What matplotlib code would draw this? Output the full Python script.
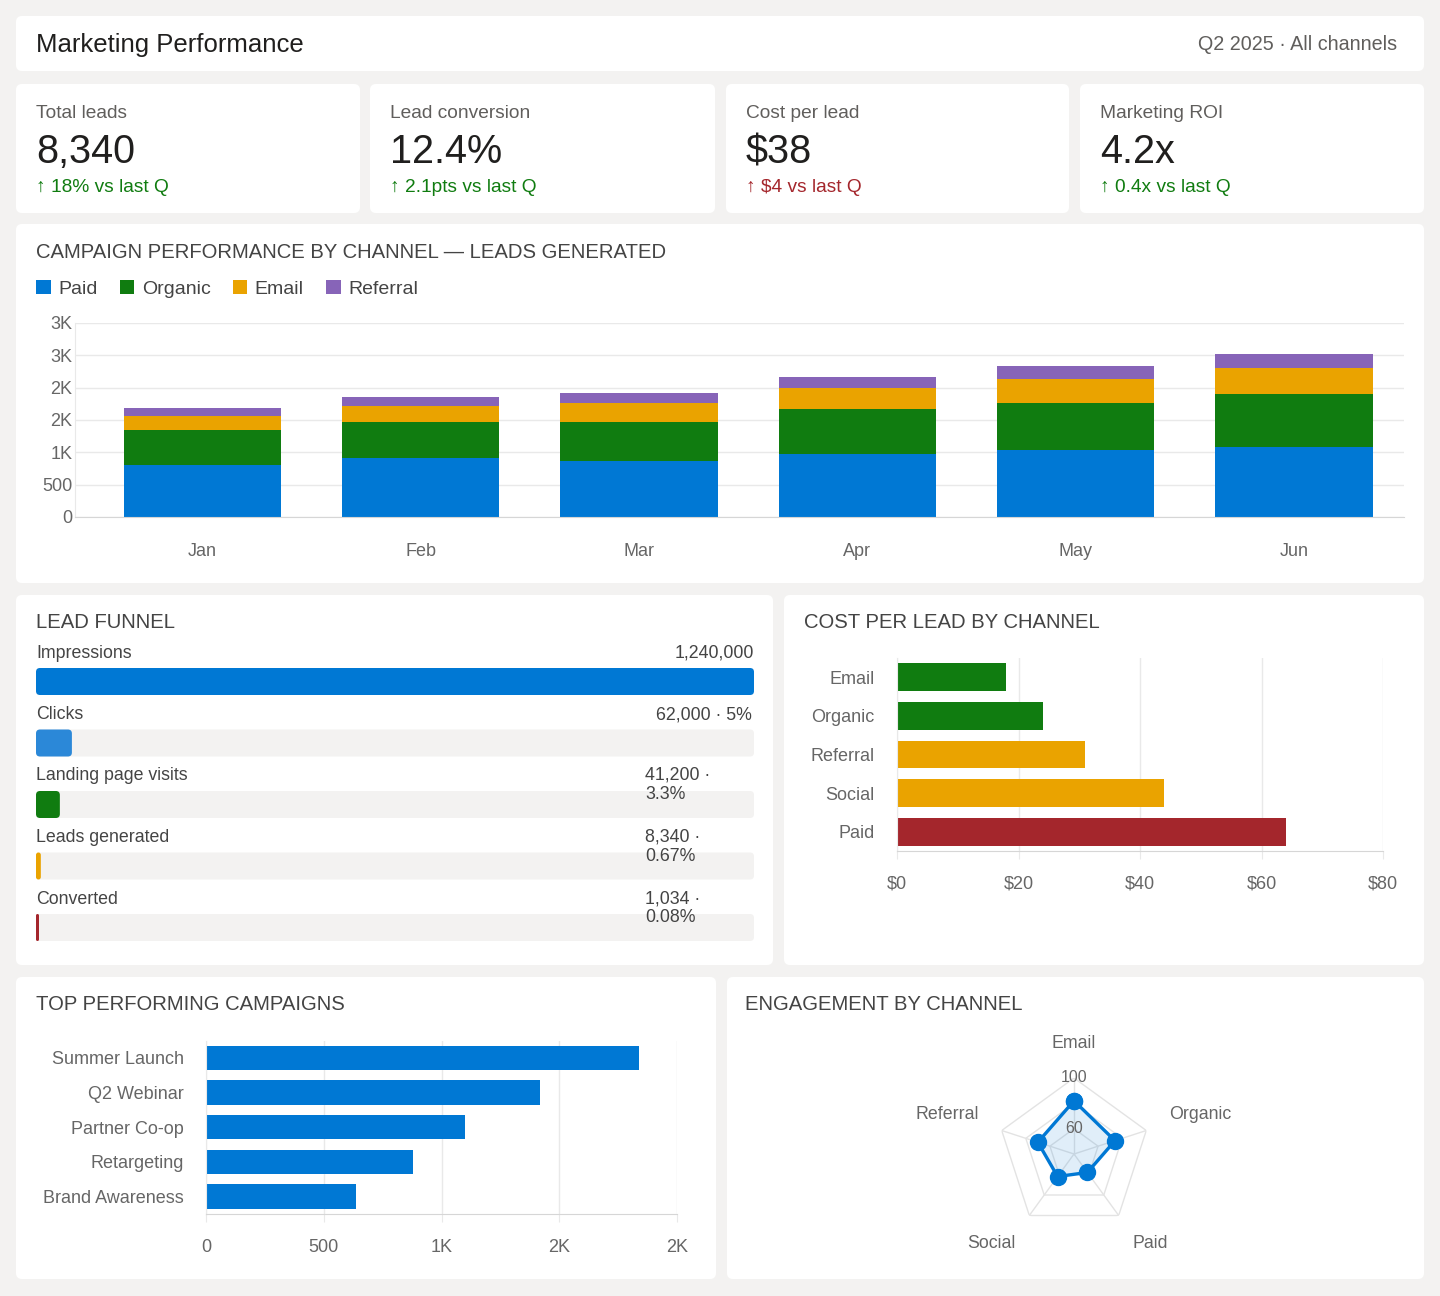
import numpy as np
import matplotlib
matplotlib.use("Agg")
import matplotlib.pyplot as plt
from matplotlib.patches import FancyBboxPatch
from matplotlib.ticker import FuncFormatter

plt.rcParams['font.family'] = ['Liberation Sans', 'DejaVu Sans']

# ---------------- data ----------------
header_title = "Marketing Performance"
header_sub = "Q2 2025 \u00b7 All channels"

kpi_labels = ["Total leads", "Lead conversion", "Cost per lead", "Marketing ROI"]
kpi_values = ["8,340", "12.4%", "$38", "4.2x"]
kpi_deltas = ["\u2191 18% vs last Q", "\u2191 2.1pts vs last Q", "\u2191 $4 vs last Q", "\u2191 0.4x vs last Q"]
kpi_good = [True, True, False, True]

months = ["Jan", "Feb", "Mar", "Apr", "May", "Jun"]
channel_names = ["Paid", "Organic", "Email", "Referral"]
paid_leads = [810, 905, 865, 970, 1030, 1090]
organic_leads = [535, 570, 610, 700, 740, 810]
email_leads = [220, 245, 285, 320, 365, 400]
referral_leads = [120, 140, 155, 170, 200, 220]

funnel_stages = ["Impressions", "Clicks", "Landing page visits", "Leads generated", "Converted"]
funnel_values = [1240000, 62000, 41200, 8340, 1034]
funnel_pcts = [None, "5%", "3.3%", "0.67%", "0.08%"]

cpl_channels = ["Email", "Organic", "Referral", "Social", "Paid"]
cpl_values = [18, 24, 31, 44, 64]

campaigns = ["Summer Launch", "Q2 Webinar", "Partner Co-op", "Retargeting", "Brand Awareness"]
campaign_leads = [1840, 1420, 1100, 880, 635]

eng_channels = ["Email", "Organic", "Paid", "Social", "Referral"]
eng_scores = [82, 74, 58, 62, 70]
eng_ticks = [60, 80, 100]
eng_range = (40, 100)

# ---------------- style ----------------
BLUE = '#0078D4'
LBLUE = '#2B88D8'
GREEN = '#107C10'
ORANGE = '#EAA300'
PURPLE = '#8764B8'
RED = '#A4262C'
BG = '#F3F2F1'
DARK = '#201F1E'
MID = '#605E5C'
TICK = '#666666'
GRID = '#E9E9E9'
AXL = '#D6D6D6'
TXT = '#444444'

channel_colors = [BLUE, GREEN, ORANGE, PURPLE]
funnel_colors = [BLUE, LBLUE, GREEN, ORANGE, RED]
cpl_colors = [GREEN, GREEN, ORANGE, ORANGE, RED]

W, H = 1440, 1296
DY = 2  # small baseline correction for html-like text centering
fig = plt.figure(figsize=(W / 100, H / 100), dpi=100)
fig.patch.set_facecolor(BG)

bg = fig.add_axes([0, 0, 1, 1])
bg.set_xlim(0, W)
bg.set_ylim(H, 0)
bg.axis('off')
bg.set_zorder(-10)


def add_ax(x0, y0, x1, y1, **kw):
    return fig.add_axes([x0 / W, 1 - y1 / H, (x1 - x0) / W, (y1 - y0) / H], **kw)


def card(x0, y0, x1, y1):
    bg.add_patch(FancyBboxPatch((x0, y0), x1 - x0, y1 - y0,
                                boxstyle="round,pad=0,rounding_size=6",
                                fc='white', ec='none'))


def kfmt(v, pos=None):
    if v >= 1000:
        return f"{int(v / 1000 + 0.5)}K"
    return f"{v:.0f}"


TITLE_FS = 14.6
TICK_FS = 13

# ---------------- header ----------------
card(16, 16, 1424, 71)
bg.text(36, 43 + DY, header_title, fontsize=18.5, color=DARK, va='center', ha='left')
bg.text(1397, 43 + DY, header_sub, fontsize=14.2, color=MID, va='center', ha='right')

# ---------------- KPI cards ----------------
kpi_boxes = [(16, 360), (370, 715), (726, 1069), (1080, 1424)]
for (x0, x1), lab, val, dl, good in zip(kpi_boxes, kpi_labels, kpi_values, kpi_deltas, kpi_good):
    card(x0, 84, x1, 213)
    bg.text(x0 + 20, 111 + DY, lab, fontsize=13.8, color=MID, va='center')
    bg.text(x0 + 20, 150 + DY, val, fontsize=28.5, color=DARK, va='center')
    bg.text(x0 + 20, 186 + DY, dl, fontsize=13.8, color=GREEN if good else RED, va='center')

# ---------------- stacked bar: leads by channel ----------------
card(16, 224, 1424, 583)
bg.text(36, 251 + DY, "CAMPAIGN PERFORMANCE BY CHANNEL \u2014 LEADS GENERATED",
        fontsize=TITLE_FS, color=TXT, va='center')

ax = add_ax(75, 323, 1404, 517)
x = np.arange(len(months))
series = [paid_leads, organic_leads, email_leads, referral_leads]
bottom = np.zeros(len(months))
handles = []
for name, vals, col in zip(channel_names, series, channel_colors):
    b = ax.bar(x, vals, 0.72, bottom=bottom, color=col, label=name, linewidth=0)
    handles.append(b)
    bottom += np.array(vals)
ax.set_xlim(-0.584, 5.504)
ax.set_ylim(0, 3000)
ax.set_yticks(np.arange(0, 3001, 500))
ax.yaxis.set_major_formatter(FuncFormatter(kfmt))
ax.set_xticks(x)
ax.set_xticklabels(months)
ax.grid(axis='y', color=GRID, lw=1)
ax.set_axisbelow(True)
for s in ['top', 'right']:
    ax.spines[s].set_visible(False)
ax.spines['left'].set_color(GRID)
ax.spines['bottom'].set_color(AXL)
ax.tick_params(axis='both', length=0, labelsize=TICK_FS, labelcolor=TICK)
ax.tick_params(axis='x', pad=19)
ax.tick_params(axis='y', pad=2)
ax.patch.set_alpha(0)

fig.legend(handles=handles, labels=channel_names, loc='center left',
           bbox_to_anchor=(36 / W, 1 - (287 + DY) / H), ncol=4, frameon=False,
           fontsize=14, handlelength=0.75, handleheight=0.75, handletextpad=0.38,
           columnspacing=1.15, borderpad=0, borderaxespad=0, labelcolor=TXT)

# ---------------- lead funnel ----------------
card(16, 595, 773, 965)
bg.text(36, 621 + DY, "LEAD FUNNEL", fontsize=TITLE_FS, color=TXT, va='center')

FX0, FY0, FX1, FY1 = 36, 640, 754, 945
fax = add_ax(FX0, FY0, FX1, FY1)
fw = FX1 - FX0
fax.set_xlim(0, fw)
fax.set_ylim(FY1 - FY0, 0)
fax.axis('off')
row_step = 61.5
bar_h = 27
for i, (stage, val, pct, col) in enumerate(zip(funnel_stages, funnel_values, funnel_pcts, funnel_colors)):
    bar_top = 28 + i * row_step
    lab_y = 11 + i * row_step + DY
    fax.add_patch(FancyBboxPatch((0, bar_top), fw, bar_h,
                                 boxstyle="round,pad=0,rounding_size=4",
                                 fc=BG, ec='none'))
    w = max(val / funnel_values[0] * fw, 3)
    fax.add_patch(FancyBboxPatch((0, bar_top), w, bar_h,
                                 boxstyle=f"round,pad=0,rounding_size={min(4, w / 2)}",
                                 fc=col, ec='none'))
    fax.text(0, lab_y, stage, fontsize=12.8, color=TXT, va='center', ha='left')
    if pct is None:
        fax.text(fw, lab_y, f"{val:,}", fontsize=12.8, color=TXT, va='center', ha='right')
    elif i == 1:
        fax.text(fw - 2, lab_y, f"{val:,} \u00b7 {pct}", fontsize=12.8, color=TXT,
                 va='center', ha='right')
    else:
        fax.text(609, lab_y - 9, f"{val:,} \u00b7\n{pct}", fontsize=12.8, color=TXT,
                 va='top', ha='left', linespacing=1.17)

# ---------------- cost per lead ----------------
card(784, 595, 1424, 965)
bg.text(804, 621 + DY, "COST PER LEAD BY CHANNEL", fontsize=TITLE_FS, color=TXT, va='center')

cax = add_ax(897, 658, 1383, 851)
yc = np.arange(len(cpl_channels))
cax.barh(yc, cpl_values, 0.72, color=cpl_colors, linewidth=0)
cax.set_ylim(len(cpl_channels) - 0.5, -0.5)
cax.set_xlim(0, 80)
cax.set_xticks(np.arange(0, 81, 20))
cax.xaxis.set_major_formatter(FuncFormatter(lambda v, p: f"${v:.0f}"))
cax.set_yticks(yc)
cax.set_yticklabels(cpl_channels)
cax.grid(axis='x', color=GRID, lw=1)
cax.set_axisbelow(True)
for s in ['top', 'right']:
    cax.spines[s].set_visible(False)
cax.spines['left'].set_color(GRID)
cax.spines['bottom'].set_color(AXL)
cax.tick_params(axis='both', labelsize=TICK_FS, labelcolor=TICK, color=GRID)
cax.tick_params(axis='x', length=6, pad=12)
cax.tick_params(axis='y', length=0, pad=16)
cax.patch.set_alpha(0)

# ---------------- top campaigns ----------------
card(16, 977, 716, 1279)
bg.text(36, 1003 + DY, "TOP PERFORMING CAMPAIGNS", fontsize=TITLE_FS, color=TXT, va='center')

tax = add_ax(206, 1040.7, 677, 1213.7)
yt = np.arange(len(campaigns))
tax.barh(yt, campaign_leads, 0.7, color=BLUE, linewidth=0)
tax.set_ylim(len(campaigns) - 0.5, -0.5)
tax.set_xlim(0, 2000)
tax.set_xticks(np.arange(0, 2001, 500))
tax.xaxis.set_major_formatter(FuncFormatter(kfmt))
tax.set_yticks(yt)
tax.set_yticklabels(campaigns)
tax.grid(axis='x', color=GRID, lw=1)
tax.set_axisbelow(True)
for s in ['top', 'right']:
    tax.spines[s].set_visible(False)
tax.spines['left'].set_color(GRID)
tax.spines['bottom'].set_color(AXL)
tax.tick_params(axis='both', labelsize=TICK_FS, labelcolor=TICK, color=GRID)
tax.tick_params(axis='x', length=6, pad=12)
tax.tick_params(axis='y', length=0, pad=16)
tax.patch.set_alpha(0)

# ---------------- engagement radar ----------------
card(727, 977, 1424, 1279)
bg.text(745, 1003 + DY, "ENGAGEMENT BY CHANNEL", fontsize=TITLE_FS, color=TXT, va='center')

RC_X, RC_Y, RR = 1074, 1154, 76
rax = add_ax(RC_X - RR, RC_Y - RR, RC_X + RR, RC_Y + RR, projection='polar')
rax.set_theta_offset(np.pi / 2)
rax.set_theta_direction(-1)
rax.set_ylim(*eng_range)
rax.grid(False)
rax.spines['polar'].set_visible(False)
rax.set_xticks([])
rax.set_yticks([])
rax.patch.set_alpha(0)

n = len(eng_channels)
angles = np.linspace(0, 2 * np.pi, n, endpoint=False)
closed = np.append(angles, angles[0])
for v in eng_ticks:
    rax.plot(closed, [v] * (n + 1), color='#E3E3E3', lw=1, zorder=1)
for a in angles:
    rax.plot([a, a], list(eng_range), color='#E3E3E3', lw=1, zorder=1)
for v in eng_ticks:
    rax.text(0, v, str(v), fontsize=11.5, color=TICK, ha='center', va='center', zorder=2)
vals = list(eng_scores) + [eng_scores[0]]
rax.fill(closed, vals, color=BLUE, alpha=0.12, lw=0, zorder=1.5)
rax.plot(closed, vals, color=BLUE, lw=2.4, marker='o', ms=11.5, zorder=3, clip_on=False)

span = eng_range[1] - eng_range[0]
label_px = [111, 100, 100, 100, 100]
for a, name, d in zip(angles, eng_channels, label_px):
    s = np.sin(a)
    c = np.cos(a)
    ha = 'center' if abs(s) < 0.1 else ('left' if s > 0 else 'right')
    if c > 0.9:
        va = 'center'
    elif c < -0.5:
        va = 'top'
    else:
        va = 'bottom'
    rax.text(a, eng_range[0] + d / RR * span, name, fontsize=12.8, color=TICK,
             ha=ha, va=va, clip_on=False)

fig.savefig("out.png", dpi=100, facecolor=BG)
